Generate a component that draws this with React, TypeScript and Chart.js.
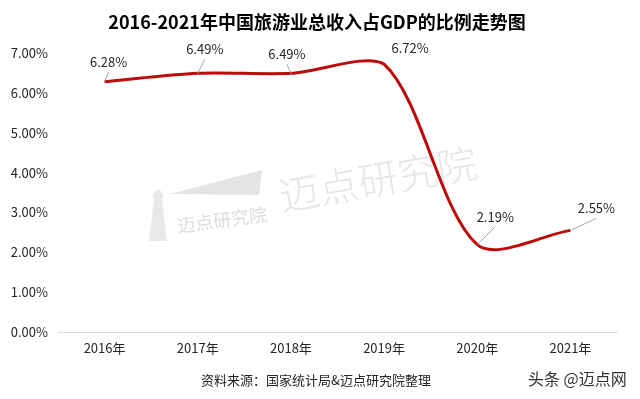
import React, { useEffect, useRef } from 'react';
import Chart from 'chart.js/auto';

const years = ['2016年', '2017年', '2018年', '2019年', '2020年', '2021年'];
const shares = [6.28, 6.49, 6.49, 6.72, 2.19, 2.55];
const yMin = 0;
const yMax = 7;
const yStep = 1;
const titleText = '2016-2021年中国旅游业总收入占GDP的比例走势图';
const sourceText = '资料来源：国家统计局&迈点研究院整理';
const brandText = '头条 @迈点网';
const watermarkText = '迈点研究院';

// label placement relative to each point (style only)
const labelOffsets: [number, number][] = [[4, -20], [7, -24], [-4, -19], [26, -16], [18, -28], [26, -22]];
const showLeader = [true, true, true, false, true, true];

const FONT = '"Noto Sans CJK SC", "Noto Sans", sans-serif';

const decorPlugin = {
  id: 'decor',
  beforeDatasetsDraw(chart: any) {
    const ctx = chart.ctx;
    ctx.save();
    // big watermark
    ctx.save();
    ctx.translate(378, 179);
    ctx.rotate((-9.9 * Math.PI) / 180);
    ctx.font = `300 40px ${FONT}`;
    ctx.fillStyle = '#e6e6e6';
    ctx.textAlign = 'center';
    ctx.textBaseline = 'middle';
    ctx.fillText(watermarkText, 0, 0);
    ctx.restore();
    // logo wedge
    ctx.fillStyle = '#e4e4e4';
    ctx.beginPath();
    ctx.moveTo(170, 194);
    ctx.lineTo(262, 170);
    ctx.lineTo(259, 195);
    ctx.closePath();
    ctx.fill();
    // lighthouse
    ctx.fillStyle = '#e8e8e8';
    ctx.beginPath();
    ctx.moveTo(154, 199);
    ctx.lineTo(162, 199);
    ctx.lineTo(167, 241);
    ctx.lineTo(149, 241);
    ctx.closePath();
    ctx.fill();
    ctx.beginPath();
    ctx.arc(158, 194, 4, Math.PI, 0);
    ctx.fill();
    ctx.fillRect(153, 194, 10, 5);
    // small logo text
    ctx.save();
    ctx.translate(222, 220);
    ctx.rotate((-7.6 * Math.PI) / 180);
    ctx.font = `18px ${FONT}`;
    ctx.fillStyle = '#dcdcdc';
    ctx.textAlign = 'center';
    ctx.textBaseline = 'middle';
    ctx.fillText(watermarkText, 0, 0);
    ctx.restore();
    ctx.restore();
  },
  afterDatasetsDraw(chart: any) {
    const ctx = chart.ctx;
    const meta = chart.getDatasetMeta(0);
    ctx.save();
    ctx.font = `13px ${FONT}`;
    ctx.textAlign = 'center';
    ctx.textBaseline = 'middle';
    meta.data.forEach((pt: any, i: number) => {
      const [dx, dy] = labelOffsets[i];
      const lx = pt.x + dx;
      const ly = pt.y + dy;
      if (showLeader[i]) {
        ctx.strokeStyle = '#a6a6a6';
        ctx.lineWidth = 1;
        ctx.beginPath();
        ctx.moveTo(lx, ly + 10);
        ctx.lineTo(pt.x, pt.y);
        ctx.stroke();
      }
      ctx.fillStyle = '#262626';
      ctx.fillText(shares[i].toFixed(2) + '%', lx, ly);
    });
    ctx.restore();
  },
  afterDraw(chart: any) {
    const ctx = chart.ctx;
    ctx.save();
    ctx.textBaseline = 'middle';
    ctx.textAlign = 'center';
    ctx.fillStyle = '#000';
    ctx.font = `bold 18px ${FONT}`;
    ctx.fillText(titleText, 317, 22);
    ctx.font = `13px ${FONT}`;
    ctx.fillStyle = '#262626';
    ctx.fillText(sourceText, 316, 380);
    ctx.textAlign = 'left';
    ctx.font = `16px ${FONT}`;
    ctx.fillStyle = '#333';
    ctx.fillText(brandText, 528, 379);
    ctx.restore();
  },
};

export default function App() {
  const ref = useRef<HTMLCanvasElement>(null);
  useEffect(() => {
    const chart = new Chart(ref.current!, {
      type: 'line',
      data: {
        labels: years,
        datasets: [
          {
            data: shares,
            borderColor: '#bf0a0a',
            borderWidth: 3,
            pointRadius: 0,
            tension: 0.3,
            fill: false,
            clip: false as any,
          },
        ],
      },
      options: {
        animation: false,
        responsive: false,
        devicePixelRatio: 1,
        layout: { padding: { top: 53, right: 23, left: 0, bottom: 0 } },
        plugins: { legend: { display: false }, tooltip: { enabled: false }, title: { display: false } },
        scales: {
          x: {
            offset: true,
            grid: { display: false, drawTicks: false },
            border: { display: true, color: '#d9d9d9', width: 1 },
            ticks: { padding: 8, color: '#262626', font: { size: 13, family: FONT } },
            afterFit: (s: any) => { s.height = 67; },
          },
          y: {
            min: yMin,
            max: yMax,
            grid: { display: false, drawTicks: false },
            border: { display: false },
            ticks: {
              stepSize: yStep,
              padding: 10,
              color: '#262626',
              font: { size: 13, family: FONT },
              callback: (v: any) => Number(v).toFixed(2) + '%',
            },
            afterFit: (s: any) => { s.width = 58; },
          },
        },
      },
      plugins: [decorPlugin],
    });
    return () => chart.destroy();
  }, []);
  return (
    <div style={{ position: 'absolute', left: 0, top: 0, width: 640, height: 399, background: '#fff' }}>
      <canvas ref={ref} width={640} height={399} />
    </div>
  );
}
